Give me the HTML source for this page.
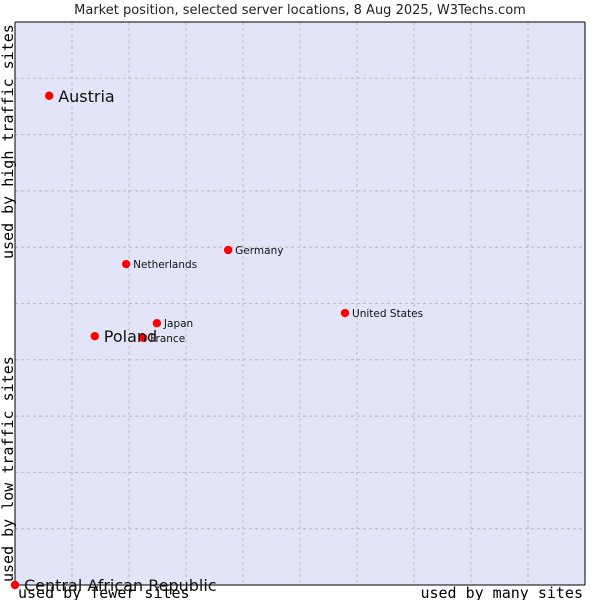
<!DOCTYPE html>
<html><head><meta charset="utf-8"><style>body{margin:0;background:#fff}svg{display:block}</style></head>
<body>
<svg id="chart" width="600" height="600" xmlns="http://www.w3.org/2000/svg" font-family="DejaVu Sans, sans-serif">
<text x="300" y="14" text-anchor="middle" font-size="13" fill="#222">Market position, selected server locations, 8 Aug 2025, W3Techs.com</text>
<rect x="15" y="22" width="570" height="563" fill="#e3e4f7"/>
<g id="grid"></g>
<line x1="15" y1="22" x2="15" y2="585" stroke="#000"/>
<line x1="15" y1="585" x2="585" y2="585" stroke="#000"/>
<line x1="15" y1="22" x2="585" y2="22" stroke="#000"/>
<line x1="585" y1="22" x2="585" y2="585" stroke="#000"/>
<g id="points"></g>
<g font-family="DejaVu Sans Mono, monospace" font-size="15" fill="#000">
<text x="18" y="598">used by fewer sites</text>
<text x="583" y="598" text-anchor="end">used by many sites</text>
<text transform="translate(13,582) rotate(-90)">used by low traffic sites</text>
<text transform="translate(13,259) rotate(-90)">used by high traffic sites</text>
</g>
</svg>
<script>
const countries=["Austria","Netherlands","Germany","United States","Japan","France","Poland","Central African Republic"];
const xValues=[6,19.5,37.4,57.9,24.9,22.5,14,0];
const yValues=[86.9,57,59.5,48.3,46.5,43.9,44.2,0];
const big=[true,false,false,false,false,false,true,true];
const NS="http://www.w3.org/2000/svg";
const X0=15,X1=585,Y0=585,Y1=22;
const sx=v=>X0+v/100*(X1-X0), sy=v=>Y0-v/100*(Y0-Y1);
const grid=document.getElementById('grid');
for(let i=1;i<10;i++){
 const v=document.createElementNS(NS,'line');
 
 
 v.setAttribute('x1',sx(i*10));v.setAttribute('x2',sx(i*10));v.setAttribute('y1',Y1);v.setAttribute('y2',Y0);
 v.setAttribute('stroke','#bbb');v.setAttribute('stroke-dasharray','3,3');grid.appendChild(v);
 const h=document.createElementNS(NS,'line');
 
 
 h.setAttribute('y1',sy(i*10));h.setAttribute('y2',sy(i*10));h.setAttribute('x1',X0);h.setAttribute('x2',X1);
 h.setAttribute('stroke','#bbb');h.setAttribute('stroke-dasharray','3,3');grid.appendChild(h);
}
const pts=document.getElementById('points');
countries.forEach((c,i)=>{
 const x=sx(xValues[i]),y=sy(yValues[i]);
 const p=document.createElementNS(NS,'circle');
 
 
 p.setAttribute('cx',x);p.setAttribute('cy',y);p.setAttribute('r',4.2);p.setAttribute('fill','#f00');
 pts.appendChild(p);
 const t=document.createElementNS(NS,'text');
 
 
 t.setAttribute('x',x+(big[i]?9:7));t.setAttribute('y',y+(big[i]?6:4));
 t.setAttribute('font-size',big[i]?16:10.5);t.setAttribute('fill','#111');
 t.textContent=c;pts.appendChild(t);
});
</script>
</body></html>
